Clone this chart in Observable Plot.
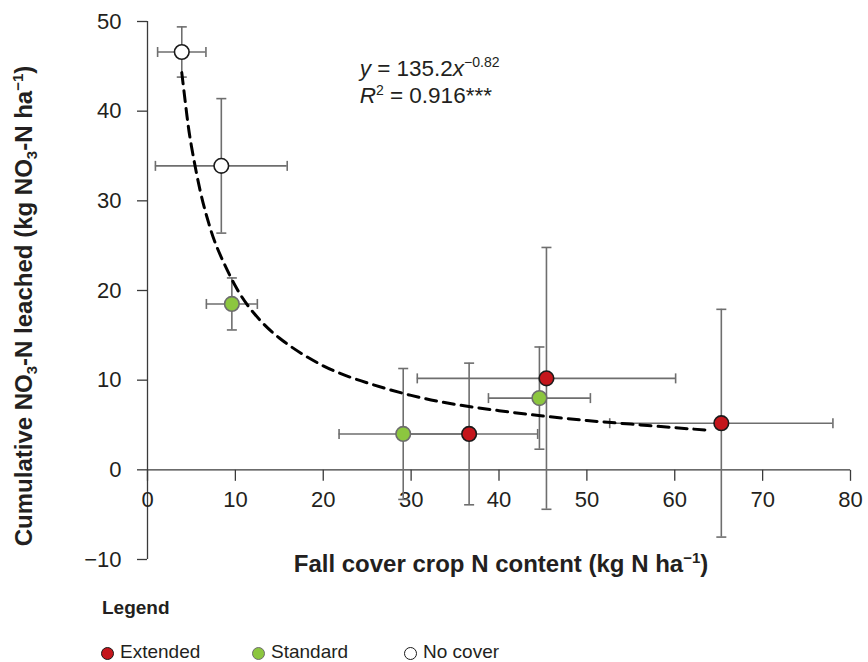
<!DOCTYPE html>
<html><head><meta charset="utf-8">
<script src="https://cdn.jsdelivr.net/npm/d3@7"></script>
<script src="https://cdn.jsdelivr.net/npm/@observablehq/plot@0.6"></script>
<style>
body{margin:0;background:#fff;}
#wrap{position:relative;width:868px;height:662px;font-family:"Liberation Sans",Arial,sans-serif;color:#231f20;}
#legend{position:absolute;left:0;top:0;width:868px;height:662px;pointer-events:none;}
.lg-title{position:absolute;left:102px;top:597px;font-weight:bold;font-size:19px;font-family:"Liberation Sans Narrow","Liberation Sans",sans-serif;}
.lg-item{position:absolute;top:640px;font-size:19px;line-height:24px;white-space:nowrap;}
.lg-dot{position:absolute;width:11px;height:11px;border-radius:50%;top:647px;}
</style></head><body><div id="wrap"></div>
<script>
// ---- data ----
const groups = ["Extended", "Standard", "No cover"];
const groupFill = ["#c4161c", "#8cc63f", "#ffffff"];
const groupStroke = ["#1a1a1a", "#6d6d6d", "#1a1a1a"];

const pointGroup  = ["No cover", "No cover", "Standard", "Standard", "Extended", "Standard", "Extended", "Extended"];
const nContent    = [3.9, 8.4, 9.6, 29.1, 36.6, 44.6, 45.4, 65.3];
const nContentErr = [2.75, 7.5, 2.9, 7.3, 7.8, 5.8, 14.7, 12.7];
const leached     = [46.6, 33.9, 18.5, 4.0, 4.0, 8.0, 10.2, 5.2];
const leachedErr  = [2.8, 7.5, 2.9, 7.3, 7.9, 5.7, 14.6, 12.7];

// dashed fitted curve
const fitX = [3.9, 4.5, 5, 6, 7, 8, 10, 12, 15, 20, 25, 30, 35, 40, 45, 50, 55, 60, 64.2];
const fitY = [44.3, 39.4, 36.1, 31.1, 27.4, 24.6, 20.5, 17.6, 14.7, 11.6, 9.7, 8.3, 7.3, 6.6, 6.0, 5.5, 5.1, 4.7, 4.4];

const xTicks = [0, 10, 20, 30, 40, 50, 60, 70, 80];
const yTicks = [-10, 0, 10, 20, 30, 40, 50];

// ---- build tables ----
const points = nContent.map((x, i) => ({x, y: leached[i], xe: nContentErr[i], ye: leachedErr[i], g: pointGroup[i]}));
const fit = fitX.map((x, i) => ({x, y: fitY[i]}));

// cap symbols (pixel-sized segments)
const capH = {draw(c, s) { const r = Math.sqrt(s / Math.PI); c.moveTo(-r, 0); c.lineTo(r, 0); }};
const capV = {draw(c, s) { const r = Math.sqrt(s / Math.PI); c.moveTo(0, -r); c.lineTo(0, r); }};
const tickDown = {draw(c, s) { const r = Math.sqrt(s / Math.PI); c.moveTo(0, 0); c.lineTo(0, 2 * r); }};

const barColor = "#6e6e6e";
const axisColor = "#3a3a3a";

const chart = Plot.plot({
  width: 868,
  height: 662,
  marginLeft: 147,
  marginRight: 18,
  marginTop: 21,
  marginBottom: 103,
  style: {fontFamily: "'Liberation Sans', Arial, sans-serif", fontSize: "22px", color: "#231f20", background: "white"},
  x: {domain: [0, 80], axis: null},
  y: {domain: [-10, 50], axis: null},
  marks: [
    // y axis
    Plot.ruleX([0], {y1: -10, y2: 50, stroke: axisColor, strokeWidth: 1.3}),
    Plot.axisY(yTicks, {tickSize: 10, tickPadding: 16, label: null, stroke: axisColor, strokeWidth: 1.3, fill: "#231f20", fontSize: 22}),
    // x axis drawn at y = 0
    Plot.ruleY([0], {x1: 0, x2: 80, stroke: axisColor, strokeWidth: 1.3}),
    Plot.dot(xTicks, {x: d => d, y: 0, symbol: tickDown, r: 5.5, fill: "none", stroke: axisColor, strokeWidth: 1.3}),
    Plot.text(xTicks, {x: d => d, y: 0, text: d => String(d), dy: 30, fontSize: 22, fill: "#231f20"}),
    // error bars
    Plot.ruleX(points, {x: "x", y1: d => d.y - d.ye, y2: d => d.y + d.ye, stroke: barColor, strokeWidth: 1.6}),
    Plot.ruleY(points, {y: "y", x1: d => d.x - d.xe, x2: d => d.x + d.xe, stroke: barColor, strokeWidth: 1.6}),
    Plot.dot(points, {x: "x", y: d => d.y + d.ye, symbol: capH, r: 5, fill: "none", stroke: barColor, strokeWidth: 1.6}),
    Plot.dot(points, {x: "x", y: d => d.y - d.ye, symbol: capH, r: 5, fill: "none", stroke: barColor, strokeWidth: 1.6}),
    Plot.dot(points, {x: d => d.x - d.xe, y: "y", symbol: capV, r: 5, fill: "none", stroke: barColor, strokeWidth: 1.6}),
    Plot.dot(points, {x: d => d.x + d.xe, y: "y", symbol: capV, r: 5, fill: "none", stroke: barColor, strokeWidth: 1.6}),
    // fitted curve
    Plot.line(fit, {x: "x", y: "y", stroke: "black", strokeWidth: 3, strokeDasharray: "11,7", curve: "natural"}),
    // points by group
    ...groups.map((g, i) => Plot.dot(points.filter(d => d.g === g), {x: "x", y: "y", r: 7.3, fill: groupFill[i], stroke: groupStroke[i], strokeWidth: 1.6}))
  ]
});

document.getElementById("wrap").appendChild(chart);

// ---- titles & annotation (real SVG text with sub/superscripts) ----
const svg = d3.select(chart);
const xs = chart.scale("x"), ys = chart.scale("y");
const bold = "'Liberation Sans Narrow', 'Liberation Sans', Arial, sans-serif";

// y axis title
const yt = svg.append("text")
  .attr("transform", "translate(32,306) rotate(-90)")
  .attr("text-anchor", "middle")
  .attr("font-family", bold).attr("font-weight", "bold").attr("font-size", 24).attr("fill", "#231f20");
yt.append("tspan").text("Cumulative NO");
yt.append("tspan").attr("font-size", 15).attr("dy", 5).text("3");
yt.append("tspan").attr("dy", -5).text("-N leached (kg NO");
yt.append("tspan").attr("font-size", 15).attr("dy", 5).text("3");
yt.append("tspan").attr("dy", -5).text("-N ha");
yt.append("tspan").attr("font-size", 15).attr("dy", -9).text("\u22121");
yt.append("tspan").attr("dy", 9).text(")");

// x axis title
const xt = svg.append("text")
  .attr("x", 501).attr("y", 572)
  .attr("text-anchor", "middle")
  .attr("font-family", bold).attr("font-weight", "bold").attr("font-size", 24).attr("fill", "#231f20");
xt.append("tspan").text("Fall cover crop N content (kg N ha");
xt.append("tspan").attr("font-size", 15).attr("dy", -9).text("\u22121");
xt.append("tspan").attr("dy", 9).text(")");

// equation annotation (anchored through the scales)
const eqX = xs.apply(24.2);
const e1 = svg.append("text").attr("x", eqX).attr("y", ys.apply(43.9))
  .attr("text-anchor", "start").attr("font-size", 22.5).attr("fill", "#231f20");
e1.append("tspan").attr("font-style", "italic").text("y");
e1.append("tspan").text(" = 135.2");
e1.append("tspan").attr("font-style", "italic").text("x");
e1.append("tspan").attr("font-size", 14).attr("dy", -9).text("\u22120.82");
const e2 = svg.append("text").attr("x", eqX).attr("y", ys.apply(40.8))
  .attr("text-anchor", "start").attr("font-size", 22.5).attr("fill", "#231f20");
e2.append("tspan").attr("font-style", "italic").text("R");
e2.append("tspan").attr("font-size", 14).attr("dy", -8).text("2");
e2.append("tspan").attr("dy", 8).text(" = 0.916***");

// ---- legend (HTML, below the plot area) ----
const lg = document.createElement("div");
lg.id = "legend";
let html = '<div class="lg-title">Legend</div>';
const dotLeft = [101, 252, 404];
const textLeft = [120, 271, 423];
groups.forEach((g, i) => {
  html += `<div class="lg-dot" style="left:${dotLeft[i]}px;background:${groupFill[i]};border:1.5px solid ${groupStroke[i]};"></div>`;
  html += `<div class="lg-item" style="left:${textLeft[i]}px">${g}</div>`;
});
lg.innerHTML = html;
document.getElementById("wrap").appendChild(lg);
</script>
</body></html>
